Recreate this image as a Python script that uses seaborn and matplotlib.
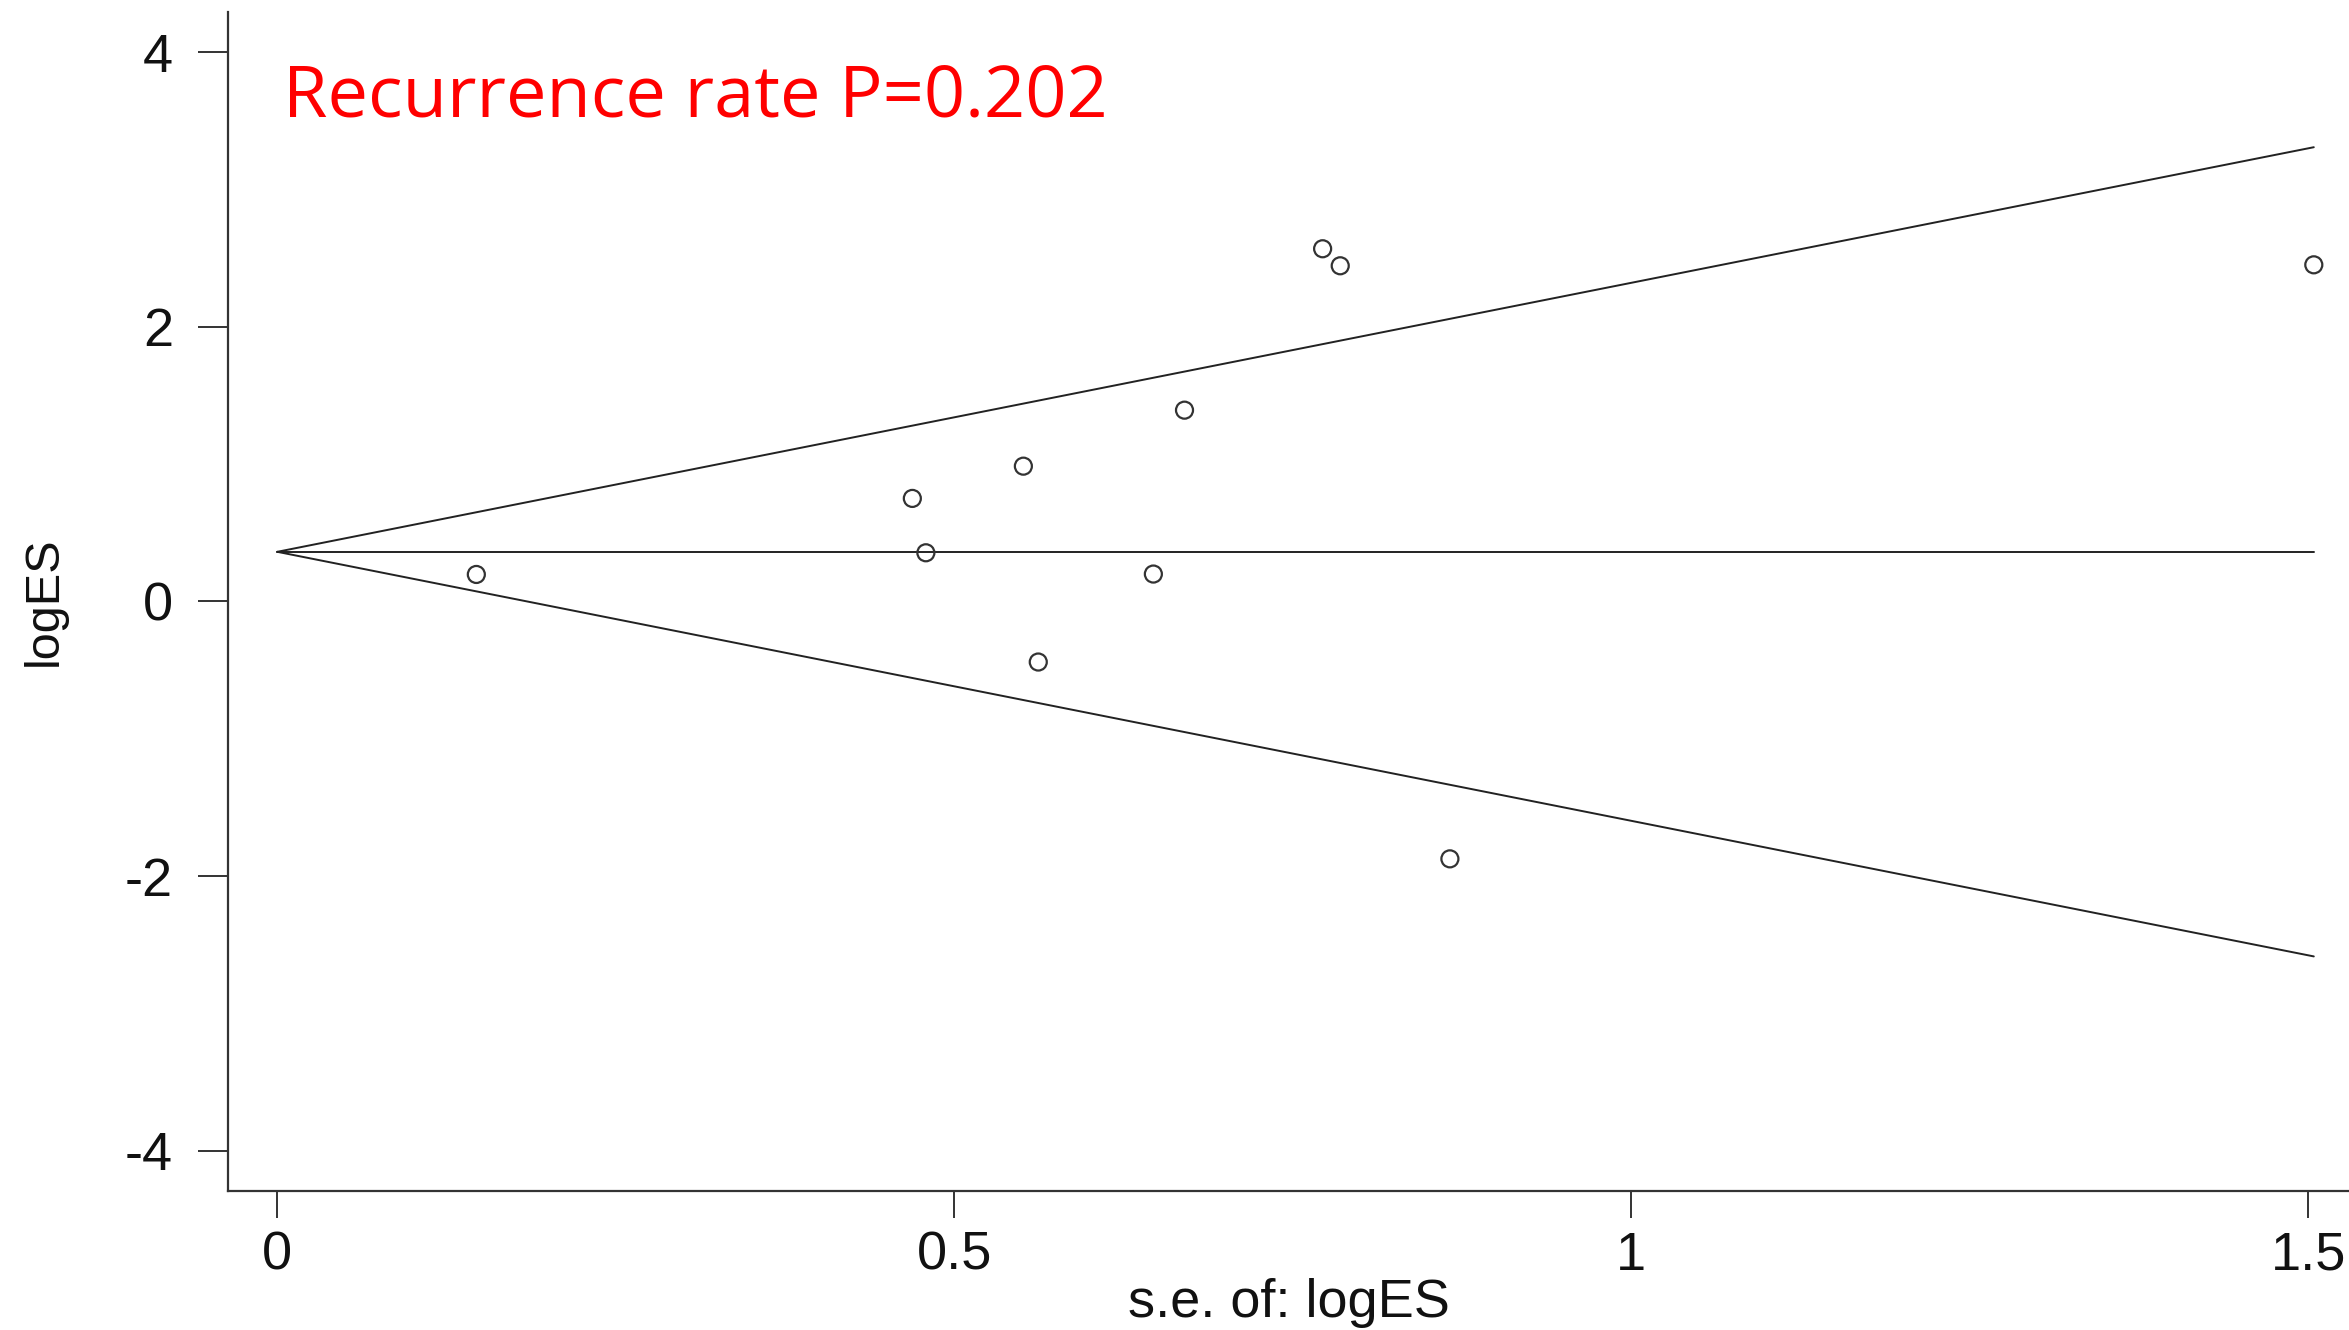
import matplotlib
matplotlib.use("Agg")
import matplotlib.pyplot as plt
import seaborn as sns
import numpy as np
import pandas as pd

# ---- data ----
se_values = [0.147, 0.469, 0.479, 0.551, 0.562, 0.647, 0.670, 0.772, 0.785, 0.866, 1.504]
log_es = [0.197, 0.751, 0.355, 0.986, -0.441, 0.200, 1.394, 2.570, 2.446, -1.875, 2.453]
fixed_effect = 0.362
z_value = 1.96
x_ticks = [0, 0.5, 1, 1.5]
x_tick_labels = ["0", "0.5", "1", "1.5"]
y_ticks = [4, 2, 0, -2, -4]
y_tick_labels = ["4", "2", "0", "-2", "-4"]
title_text = "Recurrence rate P=0.202"
x_label = "s.e. of: logES"
y_label = "logES"

sns.set_theme(style="white")
plt.rcParams["font.family"] = ["Liberation Sans", "DejaVu Sans"]

fig = plt.figure(figsize=(23.49, 13.30), dpi=100)
ax = fig.add_axes([228 / 2349, 1 - 1191 / 1330, 1 - 228 / 2349, (1191 - 12) / 1330])

df = pd.DataFrame({"se": se_values, "logES": log_es})

# funnel lines
se_max = max(se_values)
line_df = pd.DataFrame({
    "se": [0, se_max, 0, se_max, 0, se_max],
    "y": [fixed_effect, fixed_effect,
          fixed_effect, fixed_effect + z_value * se_max,
          fixed_effect, fixed_effect - z_value * se_max],
    "which": ["fe", "fe", "up", "up", "lo", "lo"],
})
for w in ["fe", "up", "lo"]:
    sub = line_df[line_df["which"] == w]
    sns.lineplot(data=sub, x="se", y="y", ax=ax, color="#222222", linewidth=1.4,
                 estimator=None, sort=False, legend=False)

sns.scatterplot(data=df, x="se", y="logES", ax=ax, s=150, marker="o",
                facecolor="none", edgecolor="#333333", linewidth=1.6, legend=False, zorder=3)

ax.set_xlim(-0.0364, 1.530)
ax.set_ylim(-4.295, 4.295)

ax.set_xticks(x_ticks)
ax.set_xticklabels(x_tick_labels)
ax.set_yticks(y_ticks)
ax.set_yticklabels(y_tick_labels)

for side in ["top", "right"]:
    ax.spines[side].set_visible(False)
for side in ["left", "bottom"]:
    ax.spines[side].set_color("#333333")
    ax.spines[side].set_linewidth(1.6)

ax.tick_params(axis="y", direction="out", length=21.5, width=1.4, color="#333333",
               pad=18, labelsize=39, labelcolor="#111111", left=True)
ax.tick_params(axis="x", direction="out", length=19.5, width=1.4, color="#333333",
               pad=9, labelsize=39, labelcolor="#111111", bottom=True)

ax.set_xlabel(x_label, fontsize=39, color="#111111", labelpad=-2)
ax.set_ylabel(y_label, fontsize=35, color="#111111", labelpad=42)

ax.text(0.004, 3.53, title_text, color="#ff0000", fontsize=52,
        family=["Open Sans", "DejaVu Sans"], ha="left", va="baseline")

fig.savefig("out.png", dpi=100)
